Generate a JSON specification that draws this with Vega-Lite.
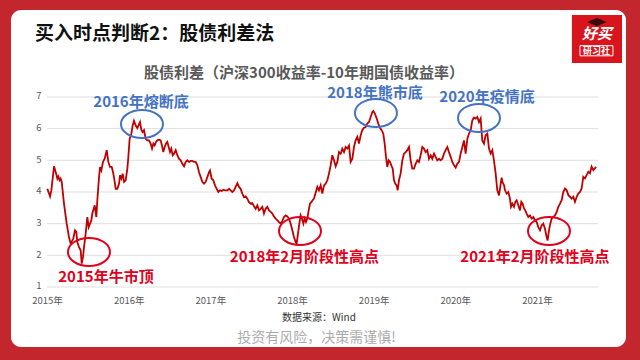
{
  "$schema": "https://vega.github.io/schema/vega-lite/v6.json",
  "width": 615,
  "height": 337,
  "autosize": {"type": "none"},
  "padding": {"left": 11, "right": 14, "top": 10, "bottom": 13},
  "background": "#c4262d",
  "config": {
    "font": "Noto Sans CJK SC",
    "view": {"fill": "#ffffff", "stroke": null, "cornerRadius": 10}
  },
  "title": {
    "text": "买入时点判断2：股债利差法",
    "anchor": "start",
    "frame": "group",
    "dx": 24,
    "offset": -53,
    "baseline": "bottom",
    "fontSize": 19,
    "fontWeight": "bold",
    "color": "#111111"
  },
  "resolve": {"axis": {"x": "independent", "y": "independent"}},
  "datasets": {
    "grid": [{"v": 1}, {"v": 2}, {"v": 3}, {"v": 4}, {"v": 5}, {"v": 6}, {"v": 7}],
    "notes": [
      {"label": "2015年牛市顶", "kind": "top", "lx": 2015.722, "ly": 1.30, "ex": 2015.514, "ey": 2.106},
      {"label": "2016年熔断底", "kind": "bottom", "lx": 2016.151, "ly": 6.85, "ex": 2016.163, "ey": 6.147},
      {"label": "2018年2月阶段性高点", "kind": "top", "lx": 2018.153, "ly": 1.95, "ex": 2018.098, "ey": 2.769},
      {"label": "2018年熊市底", "kind": "bottom", "lx": 2019.016, "ly": 7.14, "ex": 2019.028, "ey": 6.495},
      {"label": "2020年疫情底", "kind": "bottom", "lx": 2020.388, "ly": 7.01, "ex": 2020.290, "ey": 6.337},
      {"label": "2021年2月阶段性高点", "kind": "top", "lx": 2020.975, "ly": 1.95, "ex": 2021.147, "ey": 2.769}
    ],
    "series": [
      {"year": 2015.004, "v": 4.10}, {"year": 2015.037, "v": 3.86}, {"year": 2015.053, "v": 4.05}, {"year": 2015.086, "v": 4.81},
      {"year": 2015.106, "v": 4.63}, {"year": 2015.127, "v": 4.42}, {"year": 2015.139, "v": 4.49}, {"year": 2015.155, "v": 4.37},
      {"year": 2015.167, "v": 4.42}, {"year": 2015.180, "v": 4.32}, {"year": 2015.208, "v": 3.63}, {"year": 2015.241, "v": 3.00},
      {"year": 2015.269, "v": 2.58}, {"year": 2015.290, "v": 2.37}, {"year": 2015.322, "v": 2.53}, {"year": 2015.343, "v": 2.79},
      {"year": 2015.359, "v": 2.74}, {"year": 2015.371, "v": 2.42}, {"year": 2015.392, "v": 2.26}, {"year": 2015.412, "v": 2.16},
      {"year": 2015.425, "v": 1.74}, {"year": 2015.441, "v": 1.95}, {"year": 2015.453, "v": 2.26}, {"year": 2015.473, "v": 2.68},
      {"year": 2015.494, "v": 3.21}, {"year": 2015.510, "v": 2.89}, {"year": 2015.527, "v": 3.00}, {"year": 2015.543, "v": 3.11},
      {"year": 2015.555, "v": 3.32}, {"year": 2015.584, "v": 3.58}, {"year": 2015.604, "v": 3.21}, {"year": 2015.616, "v": 3.74},
      {"year": 2015.637, "v": 4.47}, {"year": 2015.649, "v": 4.79}, {"year": 2015.665, "v": 4.68}, {"year": 2015.686, "v": 4.95},
      {"year": 2015.706, "v": 5.05}, {"year": 2015.731, "v": 5.32}, {"year": 2015.751, "v": 4.95}, {"year": 2015.771, "v": 4.79},
      {"year": 2015.792, "v": 4.79}, {"year": 2015.808, "v": 4.63}, {"year": 2015.820, "v": 4.47}, {"year": 2015.841, "v": 4.10},
      {"year": 2015.861, "v": 4.10}, {"year": 2015.882, "v": 4.26}, {"year": 2015.894, "v": 4.53}, {"year": 2015.910, "v": 4.42},
      {"year": 2015.927, "v": 4.58}, {"year": 2015.943, "v": 4.32}, {"year": 2015.963, "v": 4.37}, {"year": 2015.984, "v": 4.74},
      {"year": 2015.996, "v": 5.11}, {"year": 2016.012, "v": 5.68}, {"year": 2016.033, "v": 5.84}, {"year": 2016.049, "v": 6.10},
      {"year": 2016.065, "v": 6.25}, {"year": 2016.086, "v": 6.10}, {"year": 2016.106, "v": 6.02}, {"year": 2016.139, "v": 6.21},
      {"year": 2016.155, "v": 5.97}, {"year": 2016.171, "v": 5.89}, {"year": 2016.188, "v": 5.95}, {"year": 2016.208, "v": 5.68},
      {"year": 2016.229, "v": 5.63}, {"year": 2016.249, "v": 5.63}, {"year": 2016.269, "v": 5.53}, {"year": 2016.286, "v": 5.37},
      {"year": 2016.302, "v": 5.53}, {"year": 2016.318, "v": 5.47}, {"year": 2016.335, "v": 5.58}, {"year": 2016.351, "v": 5.63},
      {"year": 2016.371, "v": 5.65}, {"year": 2016.392, "v": 5.63}, {"year": 2016.412, "v": 5.42}, {"year": 2016.424, "v": 5.26},
      {"year": 2016.441, "v": 5.42}, {"year": 2016.457, "v": 5.53}, {"year": 2016.473, "v": 5.58}, {"year": 2016.490, "v": 5.42},
      {"year": 2016.506, "v": 5.26}, {"year": 2016.522, "v": 5.37}, {"year": 2016.539, "v": 5.16}, {"year": 2016.555, "v": 5.21},
      {"year": 2016.576, "v": 5.32}, {"year": 2016.596, "v": 5.16}, {"year": 2016.616, "v": 5.05}, {"year": 2016.637, "v": 5.00},
      {"year": 2016.657, "v": 4.89}, {"year": 2016.678, "v": 4.81}, {"year": 2016.698, "v": 4.95}, {"year": 2016.718, "v": 5.00},
      {"year": 2016.739, "v": 4.95}, {"year": 2016.759, "v": 4.98}, {"year": 2016.780, "v": 4.98}, {"year": 2016.800, "v": 4.95},
      {"year": 2016.820, "v": 4.95}, {"year": 2016.841, "v": 4.84}, {"year": 2016.861, "v": 4.63}, {"year": 2016.882, "v": 4.47},
      {"year": 2016.902, "v": 4.32}, {"year": 2016.922, "v": 4.26}, {"year": 2016.943, "v": 4.32}, {"year": 2016.963, "v": 4.47},
      {"year": 2016.984, "v": 4.63}, {"year": 2016.996, "v": 4.68}, {"year": 2017.016, "v": 4.42}, {"year": 2017.037, "v": 4.37},
      {"year": 2017.057, "v": 4.21}, {"year": 2017.078, "v": 4.10}, {"year": 2017.098, "v": 4.00}, {"year": 2017.118, "v": 4.05},
      {"year": 2017.139, "v": 4.03}, {"year": 2017.159, "v": 4.07}, {"year": 2017.180, "v": 4.05}, {"year": 2017.208, "v": 4.05},
      {"year": 2017.229, "v": 4.10}, {"year": 2017.249, "v": 4.05}, {"year": 2017.269, "v": 4.00}, {"year": 2017.290, "v": 4.05},
      {"year": 2017.310, "v": 4.16}, {"year": 2017.331, "v": 4.28}, {"year": 2017.351, "v": 4.16}, {"year": 2017.371, "v": 4.10},
      {"year": 2017.392, "v": 3.95}, {"year": 2017.412, "v": 3.84}, {"year": 2017.433, "v": 3.86}, {"year": 2017.453, "v": 3.79},
      {"year": 2017.473, "v": 3.68}, {"year": 2017.494, "v": 3.63}, {"year": 2017.514, "v": 3.65}, {"year": 2017.535, "v": 3.55},
      {"year": 2017.555, "v": 3.47}, {"year": 2017.575, "v": 3.58}, {"year": 2017.596, "v": 3.42}, {"year": 2017.616, "v": 3.47},
      {"year": 2017.637, "v": 3.53}, {"year": 2017.657, "v": 3.32}, {"year": 2017.677, "v": 3.47}, {"year": 2017.698, "v": 3.53},
      {"year": 2017.718, "v": 3.42}, {"year": 2017.739, "v": 3.37}, {"year": 2017.759, "v": 3.32}, {"year": 2017.779, "v": 3.23},
      {"year": 2017.800, "v": 3.16}, {"year": 2017.820, "v": 3.11}, {"year": 2017.841, "v": 3.05}, {"year": 2017.861, "v": 3.00},
      {"year": 2017.881, "v": 3.08}, {"year": 2017.902, "v": 3.21}, {"year": 2017.922, "v": 3.26}, {"year": 2017.943, "v": 3.23},
      {"year": 2017.963, "v": 3.16}, {"year": 2017.984, "v": 3.00}, {"year": 2018.004, "v": 2.79}, {"year": 2018.024, "v": 2.58},
      {"year": 2018.045, "v": 2.42}, {"year": 2018.057, "v": 2.37}, {"year": 2018.073, "v": 2.68}, {"year": 2018.090, "v": 3.00},
      {"year": 2018.106, "v": 3.26}, {"year": 2018.122, "v": 3.16}, {"year": 2018.139, "v": 3.00}, {"year": 2018.155, "v": 3.16},
      {"year": 2018.171, "v": 3.05}, {"year": 2018.188, "v": 3.16}, {"year": 2018.204, "v": 3.42}, {"year": 2018.220, "v": 3.63},
      {"year": 2018.237, "v": 3.68}, {"year": 2018.253, "v": 3.74}, {"year": 2018.269, "v": 3.79}, {"year": 2018.310, "v": 4.16},
      {"year": 2018.330, "v": 4.05}, {"year": 2018.351, "v": 4.21}, {"year": 2018.371, "v": 3.95}, {"year": 2018.392, "v": 4.21},
      {"year": 2018.412, "v": 4.26}, {"year": 2018.433, "v": 4.37}, {"year": 2018.453, "v": 4.58}, {"year": 2018.473, "v": 4.84},
      {"year": 2018.494, "v": 5.16}, {"year": 2018.514, "v": 5.00}, {"year": 2018.535, "v": 4.81}, {"year": 2018.555, "v": 4.95},
      {"year": 2018.575, "v": 5.26}, {"year": 2018.596, "v": 5.21}, {"year": 2018.616, "v": 5.37}, {"year": 2018.637, "v": 5.26},
      {"year": 2018.657, "v": 5.42}, {"year": 2018.677, "v": 5.37}, {"year": 2018.698, "v": 5.47}, {"year": 2018.718, "v": 4.95},
      {"year": 2018.739, "v": 5.05}, {"year": 2018.759, "v": 5.42}, {"year": 2018.779, "v": 5.63}, {"year": 2018.800, "v": 5.74},
      {"year": 2018.820, "v": 5.53}, {"year": 2018.841, "v": 5.79}, {"year": 2018.861, "v": 5.95}, {"year": 2018.881, "v": 6.03},
      {"year": 2018.902, "v": 6.05}, {"year": 2018.922, "v": 6.16}, {"year": 2018.943, "v": 6.21}, {"year": 2018.963, "v": 6.37},
      {"year": 2018.984, "v": 6.53}, {"year": 2018.996, "v": 6.56}, {"year": 2019.016, "v": 6.47}, {"year": 2019.037, "v": 6.32},
      {"year": 2019.057, "v": 6.16}, {"year": 2019.077, "v": 6.03}, {"year": 2019.098, "v": 5.95}, {"year": 2019.118, "v": 5.84},
      {"year": 2019.135, "v": 5.53}, {"year": 2019.151, "v": 5.11}, {"year": 2019.167, "v": 4.79}, {"year": 2019.184, "v": 5.00},
      {"year": 2019.200, "v": 4.95}, {"year": 2019.216, "v": 4.84}, {"year": 2019.233, "v": 4.74}, {"year": 2019.249, "v": 4.37},
      {"year": 2019.265, "v": 4.26}, {"year": 2019.282, "v": 4.21}, {"year": 2019.294, "v": 4.05}, {"year": 2019.310, "v": 4.37},
      {"year": 2019.330, "v": 4.58}, {"year": 2019.351, "v": 5.00}, {"year": 2019.371, "v": 5.21}, {"year": 2019.392, "v": 5.26},
      {"year": 2019.412, "v": 5.32}, {"year": 2019.433, "v": 5.42}, {"year": 2019.453, "v": 5.00}, {"year": 2019.473, "v": 4.74},
      {"year": 2019.494, "v": 4.74}, {"year": 2019.514, "v": 4.89}, {"year": 2019.535, "v": 5.00}, {"year": 2019.555, "v": 4.95},
      {"year": 2019.575, "v": 5.16}, {"year": 2019.596, "v": 5.42}, {"year": 2019.616, "v": 5.37}, {"year": 2019.637, "v": 5.26},
      {"year": 2019.657, "v": 5.32}, {"year": 2019.677, "v": 5.05}, {"year": 2019.698, "v": 5.16}, {"year": 2019.718, "v": 5.05},
      {"year": 2019.739, "v": 5.21}, {"year": 2019.759, "v": 5.11}, {"year": 2019.779, "v": 5.00}, {"year": 2019.800, "v": 5.05},
      {"year": 2019.820, "v": 5.00}, {"year": 2019.841, "v": 5.05}, {"year": 2019.861, "v": 5.21}, {"year": 2019.881, "v": 5.32},
      {"year": 2019.902, "v": 5.42}, {"year": 2019.922, "v": 5.26}, {"year": 2019.943, "v": 5.11}, {"year": 2019.963, "v": 4.95},
      {"year": 2019.984, "v": 4.84}, {"year": 2020.004, "v": 4.77}, {"year": 2020.024, "v": 4.89}, {"year": 2020.045, "v": 4.95},
      {"year": 2020.065, "v": 5.21}, {"year": 2020.086, "v": 5.42}, {"year": 2020.106, "v": 5.63}, {"year": 2020.126, "v": 5.21},
      {"year": 2020.147, "v": 5.68}, {"year": 2020.167, "v": 5.84}, {"year": 2020.188, "v": 5.95}, {"year": 2020.208, "v": 6.26},
      {"year": 2020.228, "v": 6.35}, {"year": 2020.249, "v": 6.32}, {"year": 2020.269, "v": 6.37}, {"year": 2020.290, "v": 6.21},
      {"year": 2020.310, "v": 6.32}, {"year": 2020.330, "v": 5.63}, {"year": 2020.351, "v": 5.53}, {"year": 2020.371, "v": 5.79},
      {"year": 2020.392, "v": 5.84}, {"year": 2020.412, "v": 5.37}, {"year": 2020.433, "v": 5.21}, {"year": 2020.453, "v": 5.32},
      {"year": 2020.473, "v": 5.00}, {"year": 2020.494, "v": 4.58}, {"year": 2020.514, "v": 4.05}, {"year": 2020.535, "v": 3.89},
      {"year": 2020.567, "v": 4.45}, {"year": 2020.579, "v": 4.30}, {"year": 2020.596, "v": 4.22}, {"year": 2020.608, "v": 4.06},
      {"year": 2020.628, "v": 3.95}, {"year": 2020.649, "v": 4.00}, {"year": 2020.669, "v": 3.79}, {"year": 2020.682, "v": 3.53},
      {"year": 2020.698, "v": 3.63}, {"year": 2020.718, "v": 3.53}, {"year": 2020.735, "v": 3.69}, {"year": 2020.751, "v": 3.74},
      {"year": 2020.771, "v": 3.58}, {"year": 2020.792, "v": 3.42}, {"year": 2020.808, "v": 3.69}, {"year": 2020.824, "v": 3.63},
      {"year": 2020.841, "v": 3.48}, {"year": 2020.857, "v": 3.42}, {"year": 2020.873, "v": 3.32}, {"year": 2020.894, "v": 3.21},
      {"year": 2020.914, "v": 3.26}, {"year": 2020.935, "v": 3.16}, {"year": 2020.955, "v": 3.21}, {"year": 2020.975, "v": 3.11},
      {"year": 2020.996, "v": 3.05}, {"year": 2021.016, "v": 2.89}, {"year": 2021.037, "v": 2.79}, {"year": 2021.057, "v": 2.95},
      {"year": 2021.077, "v": 3.00}, {"year": 2021.098, "v": 2.84}, {"year": 2021.118, "v": 2.58}, {"year": 2021.130, "v": 2.47},
      {"year": 2021.147, "v": 2.79}, {"year": 2021.163, "v": 3.00}, {"year": 2021.180, "v": 3.16}, {"year": 2021.200, "v": 3.21},
      {"year": 2021.220, "v": 3.26}, {"year": 2021.241, "v": 3.37}, {"year": 2021.261, "v": 3.53}, {"year": 2021.282, "v": 3.63},
      {"year": 2021.302, "v": 3.74}, {"year": 2021.322, "v": 4.00}, {"year": 2021.343, "v": 4.11}, {"year": 2021.363, "v": 4.06},
      {"year": 2021.384, "v": 3.90}, {"year": 2021.404, "v": 3.85}, {"year": 2021.424, "v": 3.79}, {"year": 2021.445, "v": 3.85},
      {"year": 2021.465, "v": 3.69}, {"year": 2021.486, "v": 3.85}, {"year": 2021.506, "v": 3.95}, {"year": 2021.527, "v": 4.00},
      {"year": 2021.547, "v": 4.11}, {"year": 2021.567, "v": 4.48}, {"year": 2021.588, "v": 4.43}, {"year": 2021.608, "v": 4.53},
      {"year": 2021.629, "v": 4.64}, {"year": 2021.649, "v": 4.59}, {"year": 2021.669, "v": 4.80}, {"year": 2021.690, "v": 4.69},
      {"year": 2021.710, "v": 4.75}, {"year": 2021.722, "v": 4.80}
    ]
  },
  "layer": [
    {
      "data": {"name": "grid"},
      "mark": {"type": "rule", "color": "#dedede", "strokeWidth": 1},
      "encoding": {
        "y": {"field": "v", "type": "quantitative", "scale": {"domain": [-0.895, 9.747], "nice": false, "zero": false}, "axis": null},
        "x": {
          "datum": 2015, "type": "quantitative",
          "scale": {"domain": [2014.559, 2022.09], "nice": false, "zero": false},
          "axis": {
            "orient": "top", "offset": -70, "labels": false, "ticks": false, "domain": false, "grid": false,
            "title": "股债利差（沪深300收益率-10年期国债收益率）",
            "titleFontSize": 15, "titleFontWeight": "bold", "titleColor": "#595959",
            "titlePadding": 0, "titleX": 292.5, "titleAlign": "center"
          }
        },
        "x2": {"datum": 2021.747}
      }
    },
    {
      "data": {"name": "series"},
      "mark": {"type": "line", "color": "#c00000", "strokeWidth": 1.8},
      "encoding": {
        "x": {
          "field": "year", "type": "quantitative",
          "scale": {"domain": [2014.559, 2022.09], "nice": false, "zero": false},
          "axis": {
            "orient": "bottom", "values": [2015, 2016, 2017, 2018, 2019, 2020, 2021], "offset": -60,
            "labelExpr": "datum.value + '年'", "labelFlush": false, "labelOverlap": false,
            "domain": false, "ticks": false, "tickSize": 0, "grid": false,
            "labelPadding": 8, "labelFontSize": 9.5, "labelColor": "#595959",
            "title": "数据来源：Wind", "titleFontSize": 10, "titleFontWeight": "normal", "titleColor": "#333333", "titlePadding": 7.5
          }
        },
        "y": {
          "field": "v", "type": "quantitative",
          "scale": {"domain": [-0.895, 9.747], "nice": false, "zero": false},
          "axis": {
            "orient": "left", "values": [1, 2, 3, 4, 5, 6, 7], "offset": -36, "domain": false, "ticks": false, "tickSize": 0, "grid": false,
            "labelPadding": 6, "labelFontSize": 9.5, "labelOffset": -1, "labelColor": "#595959", "labelFlush": false, "labelOverlap": false,
            "title": "投资有风险，决策需谨慎!", "titleAngle": 0, "titleX": 269, "titleY": 327,
            "titleAlign": "center", "titleBaseline": "middle", "titleFontSize": 14, "titleFontWeight": "normal", "titleColor": "#ababab"
          }
        }
      }
    },
    {
      "data": {"name": "notes"},
      "mark": {"type": "point", "shape": "M-1,0A1,0.67,0,1,1,1,0A1,0.67,0,1,1,-1,0Z", "size": 1764, "filled": false, "strokeWidth": 2, "opacity": 1},
      "encoding": {
        "x": {"field": "ex", "type": "quantitative", "scale": {"domain": [2014.559, 2022.09], "nice": false, "zero": false}, "axis": null},
        "y": {"field": "ey", "type": "quantitative", "scale": {"domain": [-0.895, 9.747], "nice": false, "zero": false}, "axis": null},
        "color": {"field": "kind", "type": "nominal", "scale": {"domain": ["top", "bottom"], "range": ["#e0001b", "#4472c4"]}, "legend": null}
      }
    },
    {
      "data": {"name": "notes"},
      "mark": {"type": "text", "fontSize": 15, "fontWeight": "bold", "align": "center", "baseline": "middle"},
      "encoding": {
        "x": {"field": "lx", "type": "quantitative", "scale": {"domain": [2014.559, 2022.09], "nice": false, "zero": false}, "axis": null},
        "y": {"field": "ly", "type": "quantitative", "scale": {"domain": [-0.895, 9.747], "nice": false, "zero": false}, "axis": null},
        "text": {"field": "label"},
        "color": {"field": "kind", "type": "nominal", "scale": {"domain": ["top", "bottom"], "range": ["#e0001b", "#4472c4"]}, "legend": null}
      }
    },
    {
      "data": {"values": [{}]},
      "mark": {"type": "rect", "color": "#d8141d"},
      "encoding": {
        "x": {"datum": 2021.428, "type": "quantitative", "scale": {"domain": [2014.559, 2022.09], "nice": false, "zero": false}, "axis": null},
        "x2": {"datum": 2022.041},
        "y": {"datum": 9.589, "type": "quantitative", "scale": {"domain": [-0.895, 9.747], "nice": false, "zero": false}, "axis": null},
        "y2": {"datum": 8.074}
      }
    },
    {
      "data": {"values": [{}]},
      "mark": {"type": "rect", "fill": null, "filled": false, "stroke": "#ffffff", "strokeWidth": 1},
      "encoding": {
        "x": {"datum": 2021.526, "type": "quantitative", "scale": {"domain": [2014.559, 2022.09], "nice": false, "zero": false}, "axis": null},
        "x2": {"datum": 2021.930},
        "y": {"datum": 8.62, "type": "quantitative", "scale": {"domain": [-0.895, 9.747], "nice": false, "zero": false}, "axis": null},
        "y2": {"datum": 8.30}
      }
    },
    {
      "data": {"values": [{}]},
      "mark": {"type": "text", "text": "好买", "fontSize": 15, "fontWeight": "bold", "fontStyle": "italic", "color": "#ffffff", "align": "center", "baseline": "middle"},
      "encoding": {
        "x": {"datum": 2021.734, "type": "quantitative", "scale": {"domain": [2014.559, 2022.09], "nice": false, "zero": false}, "axis": null},
        "y": {"datum": 8.98, "type": "quantitative", "scale": {"domain": [-0.895, 9.747], "nice": false, "zero": false}, "axis": null}
      }
    },
    {
      "data": {"values": [{}]},
      "mark": {"type": "text", "text": "研习社", "fontSize": 9, "fontWeight": "bold", "color": "#ffffff", "align": "center", "baseline": "middle"},
      "encoding": {
        "x": {"datum": 2021.728, "type": "quantitative", "scale": {"domain": [2014.559, 2022.09], "nice": false, "zero": false}, "axis": null},
        "y": {"datum": 8.46, "type": "quantitative", "scale": {"domain": [-0.895, 9.747], "nice": false, "zero": false}, "axis": null}
      }
    },
    {
      "data": {"values": [{}]},
      "mark": {"type": "point", "shape": "M-1,0L0,-0.45L1,0L0,0.45Z", "size": 361, "filled": true, "color": "#3a0d0d", "opacity": 1},
      "encoding": {
        "x": {"datum": 2021.734, "type": "quantitative", "scale": {"domain": [2014.559, 2022.09], "nice": false, "zero": false}, "axis": null},
        "y": {"datum": 9.37, "type": "quantitative", "scale": {"domain": [-0.895, 9.747], "nice": false, "zero": false}, "axis": null}
      }
    }
  ]
}
